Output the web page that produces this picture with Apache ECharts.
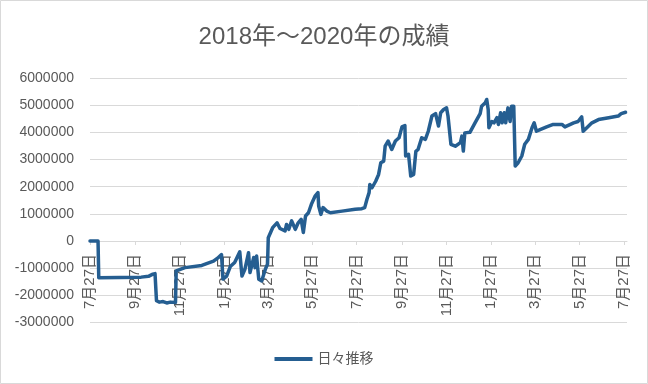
<!DOCTYPE html>
<html>
<head>
<meta charset="utf-8">
<script src="https://cdn.jsdelivr.net/npm/echarts@6/dist/echarts.min.js"></script>
<style>
html,body{margin:0;padding:0;background:#fff;}
#chart{width:648px;height:384px;}
</style>
</head>
<body>
<div id="chart"></div>
<script>
const titleText = '2018年～2020年の成績';
const seriesName = '日々推移';
const startDate = '2018-07-27';

const dates = [
'2018-07-27','2018-08-07','2018-08-08','2018-09-05','2018-10-05','2018-10-15','2018-10-21','2018-10-24',
'2018-10-26','2018-10-30','2018-11-04','2018-11-09','2018-11-14','2018-11-21','2018-11-22','2018-12-04',
'2018-12-27','2019-01-12','2019-01-19','2019-01-23','2019-01-25','2019-01-30','2019-02-04','2019-02-10',
'2019-02-17','2019-02-20','2019-02-24','2019-03-01','2019-03-03','2019-03-08','2019-03-10','2019-03-12',
'2019-03-15','2019-03-19','2019-03-24','2019-03-27','2019-03-28','2019-03-30','2019-04-03','2019-04-09',
'2019-04-13','2019-04-20','2019-04-22','2019-04-25','2019-04-29','2019-05-04','2019-05-08','2019-05-12',
'2019-05-15','2019-05-18','2019-05-22','2019-05-26','2019-05-31','2019-06-04','2019-06-05','2019-06-08',
'2019-06-11','2019-06-16','2019-06-21','2019-07-07','2019-07-25','2019-08-03','2019-08-07','2019-08-10',
'2019-08-13','2019-08-14','2019-08-17','2019-08-22','2019-08-26','2019-08-29','2019-09-02','2019-09-04',
'2019-09-08','2019-09-13','2019-09-18','2019-09-23','2019-09-27','2019-10-01','2019-10-02','2019-10-06',
'2019-10-09','2019-10-13','2019-10-16','2019-10-19','2019-10-24','2019-10-29','2019-11-02','2019-11-07',
'2019-11-12','2019-11-16','2019-11-19','2019-11-23','2019-11-27','2019-11-29','2019-12-03','2019-12-09',
'2019-12-16','2019-12-18','2019-12-20','2019-12-22','2019-12-29','2020-01-05','2020-01-12','2020-01-14',
'2020-01-19','2020-01-21','2020-01-23','2020-01-24','2020-01-28','2020-01-31','2020-02-04','2020-02-06',
'2020-02-09','2020-02-11','2020-02-14','2020-02-16','2020-02-19','2020-02-22','2020-02-24','2020-02-27',
'2020-02-29','2020-03-04','2020-03-09','2020-03-13','2020-03-18','2020-03-23','2020-03-26','2020-03-29',
'2020-04-03','2020-04-12','2020-04-21','2020-05-03','2020-05-07','2020-05-19','2020-05-25','2020-05-30',
'2020-06-01','2020-06-06','2020-06-13','2020-06-22','2020-07-06','2020-07-19','2020-07-23','2020-07-29'
];

const values = [
0,0,-1350000,-1340000,-1330000,-1300000,-1220000,-1200000,
-2200000,-2250000,-2230000,-2280000,-2250000,-2260000,-1100000,-980000,
-900000,-740000,-600000,-500000,-1400000,-1290000,-940000,-790000,
-400000,-1290000,-1040000,-430000,-1160000,-610000,-980000,-550000,
-1410000,-1470000,-1040000,-850000,120000,180000,490000,670000,
460000,370000,610000,430000,740000,430000,670000,800000,
310000,920000,1040000,1350000,1650000,1780000,1290000,980000,
1230000,1100000,1040000,1100000,1170000,1190000,1230000,1530000,
1780000,2080000,1960000,2200000,2450000,2880000,2940000,3490000,
3680000,3370000,3680000,3800000,4200000,4250000,3130000,3190000,
2390000,2450000,3300000,3370000,3800000,3740000,4040000,4600000,
4690000,4230000,4720000,4840000,4900000,4600000,3560000,3490000,
3620000,3860000,3310000,3980000,4000000,4350000,4690000,4960000,
5090000,5210000,4840000,4170000,4400000,4350000,4540000,4290000,
4720000,4350000,4720000,4350000,4900000,4400000,4960000,4960000,
2760000,2880000,3130000,3560000,3740000,4170000,4350000,4040000,
4100000,4200000,4290000,4290000,4200000,4350000,4400000,4570000,
4040000,4170000,4350000,4470000,4540000,4600000,4690000,4740000
];

const tickDates = ['2018-07-27','2018-09-27','2018-11-27','2019-01-27','2019-03-27','2019-05-27',
  '2019-07-27','2019-09-27','2019-11-27','2020-01-27','2020-03-27','2020-05-27','2020-07-27'];
const tickLabels = ['7月27日','9月27日','11月27日','1月27日','3月27日','5月27日',
  '7月27日','9月27日','11月27日','1月27日','3月27日','5月27日','7月27日'];
const axisEndDate = '2020-07-31';

const yMin = -3000000, yMax = 6000000, yStep = 1000000;

function dayOf(s){
  const p = s.split('-').map(Number);
  const q = startDate.split('-').map(Number);
  return Math.round((Date.UTC(p[0],p[1]-1,p[2]) - Date.UTC(q[0],q[1]-1,q[2]))/86400000);
}
const tickDays = tickDates.map(dayOf);
const seriesData = dates.map((d,i)=>[dayOf(d), values[i]]);

const textColor = '#595959';
const gridColor = '#d9d9d9';
const font = '"Liberation Sans", "Noto Sans CJK JP", sans-serif';

const gridTop = 78, gridBottom = 61.5, chartH = 384;
// distance from the grid's bottom edge up to the y = 0 line
const zeroOffset = (chartH - gridTop - gridBottom) * (0 - yMin) / (yMax - yMin);

const chart = echarts.init(document.getElementById('chart'), null, {renderer:'canvas'});
chart.setOption({
  animation:false,
  backgroundColor:'#ffffff',
  title:{
    text:titleText, left:'center', top:20,
    textStyle:{color:textColor, fontSize:24, fontWeight:'normal', fontFamily:font}
  },
  legend:{
    data:[{name:seriesName, icon:'rect'}],
    bottom:13, left:'center',
    itemWidth:38, itemHeight:4,
    textStyle:{color:textColor, fontSize:14, fontFamily:font}
  },
  grid:{left:90, right:21, top:gridTop, bottom:gridBottom, containLabel:false, outerBoundsMode:'none'},
  xAxis:{
    type:'value', min:0, max:dayOf(axisEndDate),
    offset:-zeroOffset, z:0,
    axisLine:{show:true, onZero:false, lineStyle:{color:gridColor, width:1}},
    axisTick:{show:true, customValues:tickDays, length:4, lineStyle:{color:gridColor}},
    axisLabel:{
      customValues:tickDays, rotate:90, margin:13, hideOverlap:false,
      color:textColor, fontSize:15, fontFamily:font,
      formatter:function(v){ const i = tickDays.indexOf(v); return i>=0 ? tickLabels[i] : ''; }
    },
    splitLine:{show:false}
  },
  yAxis:{
    type:'value', min:yMin, max:yMax, interval:yStep, z:0,
    axisLine:{show:false, onZero:false}, axisTick:{show:false},
    axisLabel:{color:textColor, fontSize:14, fontFamily:font, margin:16, formatter:function(v){return String(v);}},
    splitLine:{lineStyle:{color:gridColor, width:1}}
  },
  graphic:[{type:'rect', shape:{x:0.5,y:0.5,width:647,height:383}, style:{fill:'none', stroke:gridColor, lineWidth:1}, silent:true, z:100}],
  series:[{
    name:seriesName, type:'line', data:seriesData, z:10,
    showSymbol:false, symbol:'none',
    lineStyle:{color:'#255e91', width:3.5, join:'round', cap:'round'},
    itemStyle:{color:'#255e91'}
  }]
});
</script>
</body>
</html>
